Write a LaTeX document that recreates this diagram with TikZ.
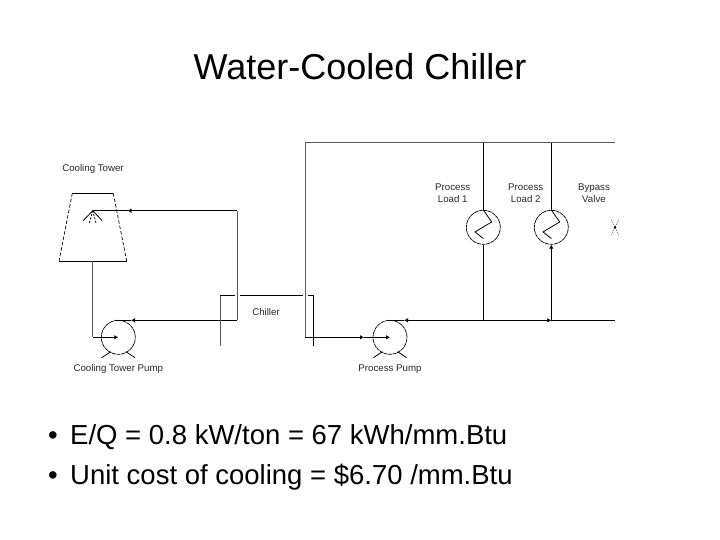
\documentclass[tikz,border=0pt]{standalone}
\usepackage{fontspec}
\setmainfont{Liberation Sans}
\usetikzlibrary{arrows.meta}
\newcommand{\bulletmark}{\makebox[22pt][l]{\textbullet}}

\begin{document}
\begin{tikzpicture}[
    x=1pt, y=-1pt,
    pipe/.style={draw=black, line width=0.8pt},
    greypipe/.style={draw=black!65, line width=0.8pt},
    flow/.style={pipe, -{Latex[length=4pt,width=4.5pt]}},
    wall/.style={draw=black, line width=0.7pt, dash pattern=on 3.5pt off 2pt},
    spraydash/.style={pipe, dash pattern=on 2pt off 1.5pt},
    valveline/.style={draw=black!70, line width=0.6pt, dash pattern=on 1pt off 1.2pt},
    roundbox/.style={circle, draw=black, line width=0.7pt, dash pattern=on 4pt off 0.6pt, minimum size=34pt, inner sep=0pt},
    small/.style={font=\fontsize{9.7}{11.7}\selectfont, text=black!85, align=center, inner sep=0pt},
    bullet/.style={font=\fontsize{27.5}{30}\selectfont, anchor=west, inner sep=0pt}
]
\useasboundingbox (0,0) rectangle (720,540);

\node[font=\fontsize{36}{40}\selectfont, inner sep=0pt] (title) at (360,67) {Water-Cooled Chiller};
\node[bullet] (costa) at (48,437) {\bulletmark E/Q = 0.8 kW/ton = 67 kWh/mm.Btu};
\node[bullet] (costb) at (48,477) {\bulletmark Unit cost of cooling = \$6.70 /mm.Btu};

\node[small] (towerhead) at (93,168.5) {Cooling Tower};
\node[small] (chillerhead) at (266,312) {Chiller};
\node[small, anchor=base] (towerpumphead) at (118.3,371.5) {Cooling Tower Pump};
\node[small, anchor=base] (processpumphead) at (390,371.5) {Process Pump};
\node[small] (loadahead) at (452.7,193.5) {Process\\Load 1};
\node[small] (loadbhead) at (525.7,193.5) {Process\\Load 2};
\node[small] (bypasshead) at (594,193.5) {Bypass\\Valve};

\node[roundbox] (towerpump) at (118.3,337.3) {};
\node[roundbox] (processpump) at (390,337.3) {};
\node[roundbox] (loada) at (483.3,227.3) {};
\node[roundbox] (loadb) at (551.3,227.3) {};

\coordinate (towertl) at (72.3,193.3);
\coordinate (towertr) at (113.3,193.3);
\coordinate (towerbl) at (59,261.3);
\coordinate (towerbr) at (126.7,261.3);
\coordinate (towerdrain) at (92.7,261.3);
\coordinate (spray) at (92.7,210.7);
\coordinate (drainbend) at (92.7,337.3);
\coordinate (returnbend) at (237.3,210.7);
\coordinate (returntip) at (127.5,210.7);
\coordinate (supplybend) at (237.3,320.3);
\coordinate (supplytip) at (131,320.3);
\coordinate (towerout) at (116.7,320.3);
\coordinate (chilleral) at (220.3,345.7);
\coordinate (chillerat) at (220.3,295.3);
\coordinate (chilleram) at (235,295.3);
\coordinate (chillerbl) at (240,295.3);
\coordinate (chillerbm) at (303.3,295.3);
\coordinate (chillercl) at (308.3,295.3);
\coordinate (chillerct) at (313.3,295.3);
\coordinate (chillercb) at (313.3,345.7);
\coordinate (looptop) at (305.3,142.7);
\coordinate (loopbend) at (305.3,337.3);
\coordinate (looptip) at (364,337.3);
\coordinate (topend) at (615,142.7);
\coordinate (loadatop) at (483.3,142.7);
\coordinate (loadbtop) at (551.3,142.7);
\coordinate (processout) at (388.3,320.3);
\coordinate (processtip) at (404,320.3);
\coordinate (loadabot) at (483.3,320.3);
\coordinate (loadbbot) at (551.3,320.3);
\coordinate (mainend) at (615,320.3);
\coordinate (bypass) at (615,227.3);

\draw[wall] (towertl) -- (towerbl);
\draw[wall] (towertr) -- (towerbr);
\draw[pipe] (towertl) -- (towertr);
\draw[pipe] (towerbl) -- (towerbr);
\draw[pipe] (spray) -- ++(-9.5,10);
\draw[spraydash] (spray) -- ++(-3.5,13);
\draw[spraydash] (spray) -- ++(3.5,13);
\draw[pipe] (spray) -- ++(9.5,10);

\draw[greypipe] (towerdrain) -- (drainbend);
\draw[flow] (drainbend) -- (towerpump.center);
\draw[greypipe] (returnbend) -- (supplybend);
\draw[flow] (returnbend) -- (returntip);
\draw[pipe] (returntip) -- (spray);
\draw[flow] (supplybend) -- (supplytip);
\draw[pipe] (supplytip) -- (towerout);
\draw[pipe] (towerpump) ++(-16.6,20.4) -- ++(9,-6);
\draw[pipe] (towerpump) ++(16.6,20.4) -- ++(-9,-6);

\draw[greypipe] (chilleral) -- (chillerat);
\draw[pipe] (chillerat) -- (chilleram);
\draw[pipe] (chillerbl) -- (chillerbm);
\draw[pipe] (chillercl) -- (chillerct);
\draw[pipe] (chillerct) -- (chillercb);

\draw[greypipe] (looptop) -- (loopbend);
\draw[greypipe] (looptop) -- (topend);
\draw[flow] (loopbend) -- (looptip);
\draw[flow] (looptip) -- (processpump.center);
\draw[pipe] (processout) -- (processtip);
\draw[flow] (loadabot) -- (processtip);
\draw[flow] (loadabot) -- (loadbbot);
\draw[pipe] (loadbbot) -- (mainend);
\draw[pipe] (processpump) ++(-16.6,20.4) -- ++(9,-6);
\draw[pipe] (processpump) ++(16.6,20.4) -- ++(-9,-6);

\draw[pipe] (loadatop) -- (loada.north);
\draw[pipe] (loadabot) -- (loada.south);
\draw[pipe] (loadbtop) -- (loadb.north);
\draw[flow] (loadbbot) -- (loadb.south);
\draw[pipe] (loada.north) -- ++(8.4,12) -- ++(-16.7,10) -- ++(8.4,6.6);
\draw[pipe] (loadb.north) -- ++(8.4,12) -- ++(-16.7,10) -- ++(8.4,6.6);

\draw[valveline] (bypass) ++(-3.5,-7.5) -- ++(7,15);
\draw[valveline] (bypass) ++(3.5,-7.5) -- ++(-7,15);
\fill[black] (bypass) circle (1.3pt);
\end{tikzpicture}
\end{document}
